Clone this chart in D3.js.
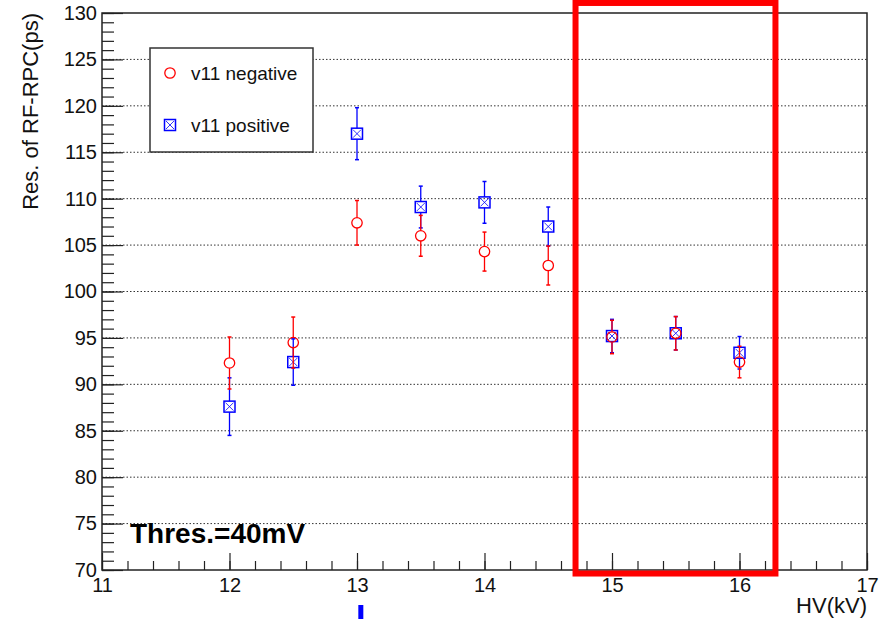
<!DOCTYPE html>
<html>
<head>
<meta charset="utf-8">
<script src="https://cdn.jsdelivr.net/npm/d3@7"></script>
<style>
  body { margin: 0; background: #fff; }
  svg { display: block; font-family: "Liberation Sans", Arial, sans-serif; }
</style>
</head>
<body>
<div id="wrapper"></div>
<script>
// HV points (kV)
const hv = [12, 12.5, 13, 13.5, 14, 14.5, 15, 15.5, 16]

// v11 negative (red circles)
const negRes = [92.3, 94.5, 107.4, 106.0, 104.3, 102.8, 95.1, 95.5, 92.4]
const negErr = [2.8, 2.75, 2.4, 2.2, 2.1, 2.1, 1.8, 1.8, 1.7]

// v11 positive (blue boxed squares)
const posRes = [87.6, 92.4, 117.0, 109.1, 109.6, 107.0, 95.2, 95.5, 93.4]
const posErr = [3.1, 2.5, 2.8, 2.25, 2.25, 2.1, 1.8, 1.8, 1.75]

const xTicks = [11, 12, 13, 14, 15, 16, 17]
const yTicks = [70, 75, 80, 85, 90, 95, 100, 105, 110, 115, 120, 125, 130]

// highlighted region (data units)
const boxHv = [14.714, 16.282]
const boxRes = [69.62, 131.08]

async function drawChart() {

  let dimensions = {
    width: 889,
    height: 620,
    margin: { top: 13, right: 22, bottom: 50, left: 102 },
  }
  dimensions.boundedWidth = dimensions.width - dimensions.margin.left - dimensions.margin.right
  dimensions.boundedHeight = dimensions.height - dimensions.margin.top - dimensions.margin.bottom

  const wrapper = d3.select("#wrapper")
    .append("svg")
      .attr("width", dimensions.width)
      .attr("height", dimensions.height)

  const bounds = wrapper.append("g")
    .attr("transform", `translate(${dimensions.margin.left},${dimensions.margin.top})`)

  const xScale = d3.scaleLinear()
    .domain([11, 17])
    .range([0, dimensions.boundedWidth])
  const yScale = d3.scaleLinear()
    .domain([70, 130])
    .range([dimensions.boundedHeight, 0])

  // grid (horizontal dotted)
  bounds.append("g")
    .selectAll("line")
    .data(yTicks.filter(d => d > 70 && d < 130))
    .join("line")
      .attr("x1", 0)
      .attr("x2", dimensions.boundedWidth)
      .attr("y1", d => yScale(d))
      .attr("y2", d => yScale(d))
      .attr("stroke", "#333")
      .attr("stroke-width", 1)
      .attr("stroke-dasharray", "1.5,2")

  // minor ticks
  const yMinor = d3.range(70, 130.01, 1)
  const xMinor = d3.range(11, 17.01, 0.2)
  bounds.append("g")
    .call(d3.axisLeft(yScale).tickValues(yMinor).tickSize(-12).tickFormat(""))
    .call(g => g.select(".domain").remove())
  bounds.append("g")
    .attr("transform", `translate(0,${dimensions.boundedHeight})`)
    .call(d3.axisBottom(xScale).tickValues(xMinor).tickSize(-9).tickFormat(""))
    .call(g => g.select(".domain").remove())

  // major axes
  const yAxis = bounds.append("g")
    .call(d3.axisLeft(yScale).tickValues(yTicks).tickSize(-21).tickPadding(5).tickFormat(d3.format("d")))
  const xAxis = bounds.append("g")
    .attr("transform", `translate(0,${dimensions.boundedHeight})`)
    .call(d3.axisBottom(xScale).tickValues(xTicks).tickSize(-17).tickPadding(8).tickFormat(d3.format("d")))
  ;[xAxis, yAxis].forEach(a => {
    a.select(".domain").remove()
    a.selectAll("text").attr("font-size", 20).attr("fill", "#111").attr("font-family", "Liberation Sans, Arial, sans-serif")
  })
  bounds.selectAll(".tick line").attr("stroke", "#222").attr("stroke-width", 1.2)

  // frame
  bounds.append("rect")
    .attr("width", dimensions.boundedWidth)
    .attr("height", dimensions.boundedHeight)
    .attr("fill", "none")
    .attr("stroke", "#222")
    .attr("stroke-width", 1.5)

  // series
  const series = [
    { name: "v11 negative", values: negRes, errs: negErr, color: "#ff0000", marker: "circle" },
    { name: "v11 positive", values: posRes, errs: posErr, color: "#0000ff", marker: "square" },
  ]

  const drawMarker = (g, type, color) => {
    if (type === "circle") {
      g.append("circle").attr("r", 5.2).attr("fill", "none").attr("stroke", color).attr("stroke-width", 1.3)
    } else {
      g.append("rect").attr("x", -5.5).attr("y", -5.5).attr("width", 11).attr("height", 11)
        .attr("fill", "none").attr("stroke", color).attr("stroke-width", 1.5)
      g.append("path").attr("d", "M-4,-4L4,4M-4,4L4,-4")
        .attr("stroke", color).attr("stroke-width", 0.8).attr("fill", "none")
    }
  }

  // draw positive first, negative on top
  ;[series[1], series[0]].forEach(s => {
    const gap = s.marker === "circle" ? 5.2 : 5.5
    const pts = hv.map((h, i) => ({ x: h, y: s.values[i], e: s.errs[i] }))
    const g = bounds.append("g")
    const pg = g.selectAll("g").data(pts).join("g")
      .attr("transform", d => `translate(${xScale(d.x)},${yScale(d.y)})`)
    pg.append("line")
      .attr("y1", d => yScale(d.y + d.e) - yScale(d.y))
      .attr("y2", -gap)
      .attr("stroke", s.color).attr("stroke-width", 1.3)
    pg.append("line")
      .attr("y1", gap)
      .attr("y2", d => yScale(d.y - d.e) - yScale(d.y))
      .attr("stroke", s.color).attr("stroke-width", 1.3)
    ;[1, -1].forEach(sign => {
      pg.append("line")
        .attr("x1", -2).attr("x2", 2)
        .attr("y1", d => yScale(d.y + sign * d.e) - yScale(d.y))
        .attr("y2", d => yScale(d.y + sign * d.e) - yScale(d.y))
        .attr("stroke", s.color).attr("stroke-width", 1.5)
    })
    pg.each(function() { drawMarker(d3.select(this), s.marker, s.color) })
  })

  // legend
  const legend = wrapper.append("g").attr("transform", "translate(150,48)")
  legend.append("rect")
    .attr("width", 163).attr("height", 104)
    .attr("fill", "#fff").attr("stroke", "#333").attr("stroke-width", 1.5)
  series.forEach((s, i) => {
    const row = legend.append("g").attr("transform", `translate(20,${25 + i * 52})`)
    drawMarker(row, s.marker, s.color)
    row.append("text")
      .attr("x", 21).attr("y", 7)
      .attr("font-size", 19).attr("fill", "#111")
      .text(s.name)
  })

  // axis titles
  wrapper.append("text")
    .attr("transform", `translate(38,${dimensions.margin.top}) rotate(-90)`)
    .attr("text-anchor", "end")
    .attr("font-size", 22).attr("fill", "#111")
    .text("Res. of RF-RPC(ps)")
  wrapper.append("text")
    .attr("x", dimensions.margin.left + dimensions.boundedWidth)
    .attr("y", 613)
    .attr("text-anchor", "end")
    .attr("font-size", 22).attr("fill", "#111")
    .text("HV(kV)")

  // threshold label
  wrapper.append("text")
    .attr("x", 130).attr("y", 543)
    .attr("font-size", 28).attr("font-weight", "bold").attr("fill", "#000")
    .text("Thres.=40mV")

  // highlight box
  bounds.append("rect")
    .attr("x", xScale(boxHv[0]))
    .attr("y", yScale(boxRes[1]))
    .attr("width", xScale(boxHv[1]) - xScale(boxHv[0]))
    .attr("height", yScale(boxRes[0]) - yScale(boxRes[1]))
    .attr("fill", "none")
    .attr("stroke", "#ff0000")
    .attr("stroke-width", 6)

  // small blue mark below the 13 label
  bounds.append("rect")
    .attr("x", xScale(13.03) - 2.5)
    .attr("y", dimensions.boundedHeight + 35)
    .attr("width", 5)
    .attr("height", 14)
    .attr("fill", "#0000ff")
}

drawChart()
</script>
</body>
</html>
